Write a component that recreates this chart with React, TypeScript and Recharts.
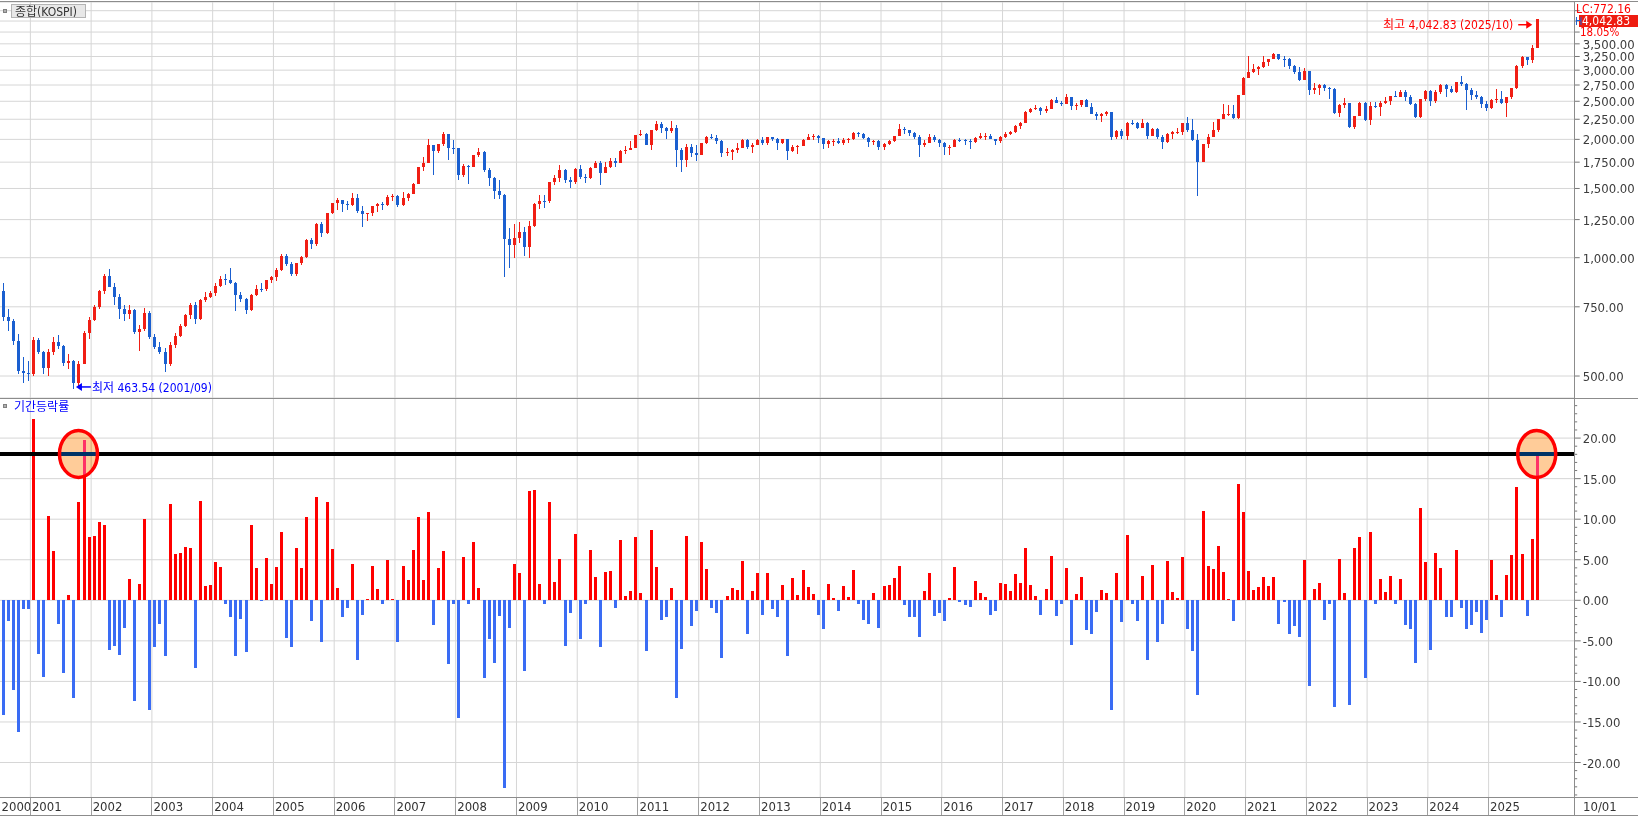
import { ComposedChart, Bar, XAxis, YAxis, CartesianGrid, ReferenceLine, ReferenceDot } from "recharts";

const W = 1638;
const AXIS_W = 63.3;
const SLOTS = 311;
const LOWER_H = 417;
const LABEL_ROW_H = 18.7;
const NUM_FONT = "'DejaVu Sans Condensed', 'DejaVu Sans', sans-serif";
const KR_FONT = "'DejaVu Sans Condensed', 'Noto Sans CJK KR', sans-serif";

const UP = "#f01e14";
const DN = "#1a5fd0";
const BAR_UP = "#ff0000";
const BAR_DN = "#3a6cf4";
const GRID = "#d6d6d6";
const FRAME = "#8c8c8c";

// monthly candles, 2000/07 .. 2025/10
const FIRST_OPEN = 821;
const yearLabels = ["2000", "2001", "2002", "2003", "2004", "2005", "2006", "2007", "2008", "2009", "2010", "2011", "2012",
  "2013", "2014", "2015", "2016", "2017", "2018", "2019", "2020", "2021", "2022", "2023", "2024", "2025"];
const yearStart = yearLabels.map((_, k) => (k === 0 ? 0 : 6 + 12 * (k - 1)));

const closes = [
  706, 689, 613, 514, 509, 505,
  618, 577, 523, 577, 612, 595, 541, 545, 480, 537, 643, 694,
  749, 821, 897, 842, 795, 742, 717, 735, 646, 659, 725, 627,
  591, 574, 535, 599, 633, 669, 714, 760, 697, 782, 796, 811,
  849, 884, 880, 862, 803, 785, 734, 802, 834, 833, 877, 895,
  932, 1010, 965, 910, 968, 1007, 1111, 1082, 1220, 1157, 1297, 1379,
  1400, 1371, 1359, 1420, 1317, 1293, 1296, 1350, 1369, 1362, 1430, 1434,
  1360, 1417, 1452, 1542, 1701, 1743, 1933, 1873, 1946, 2065, 1904, 1897,
  1624, 1711, 1703, 1825, 1853, 1674, 1594, 1474, 1448, 1113, 1076, 1124,
  1162, 1063, 1206, 1370, 1396, 1390, 1558, 1592, 1673, 1581, 1555, 1683,
  1602, 1594, 1692, 1741, 1641, 1698, 1759, 1742, 1873, 1883, 1905, 2051,
  2069, 1939, 2107, 2192, 2142, 2101, 2133, 1880, 1769, 1909, 1847, 1826,
  1956, 2031, 2014, 1982, 1843, 1854, 1881, 1905, 1996, 1912, 1932, 1997,
  1961, 2026, 2005, 1963, 2001, 1863, 1914, 1926, 1997, 2030, 2045, 2011,
  1941, 1980, 1986, 1961, 1995, 2002, 2076, 2068, 2020, 1964, 1981, 1916,
  1950, 1986, 2041, 2127, 2114, 2072, 2029, 1937, 1963, 2029, 1991, 1961,
  1912, 1917, 1996, 1994, 1983, 1970, 2016, 2035, 2044, 2008, 1983, 2026,
  2067, 2092, 2160, 2205, 2347, 2392, 2403, 2363, 2394, 2523, 2476, 2467,
  2566, 2427, 2446, 2516, 2423, 2326, 2295, 2323, 2343, 2029, 2097, 2041,
  2205, 2195, 2141, 2204, 2041, 2131, 2025, 1967, 2063, 2083, 2088, 2198,
  2119, 1987, 1754, 1947, 2029, 2108, 2249, 2326, 2327, 2267, 2591, 2873,
  2976, 3013, 3061, 3148, 3204, 3297, 3202, 3199, 3068, 2970, 2839, 2978,
  2663, 2699, 2757, 2695, 2686, 2333, 2452, 2473, 2155, 2293, 2473, 2236,
  2425, 2413, 2477, 2501, 2577, 2564, 2633, 2556, 2465, 2277, 2535, 2655,
  2497, 2642, 2747, 2692, 2636, 2798, 2770, 2674, 2593, 2556, 2456, 2399,
  2517, 2533, 2481, 2556, 2698, 3072, 3245, 3186, 3425, 4042.83,
];

const highs = [
  862, 740, 700, 640, 560, 545,
  630, 625, 580, 585, 630, 635, 600, 570, 550, 545, 650, 705,
  760, 830, 910, 937, 860, 810, 760, 760, 740, 675, 745, 730,
  640, 610, 590, 610, 645, 680, 720, 765, 770, 785, 820, 825,
  860, 900, 910, 940, 865, 820, 790, 810, 850, 860, 880, 900,
  940, 1020, 1022, 975, 970, 1010, 1115, 1125, 1222, 1230, 1300, 1380,
  1422, 1405, 1395, 1465, 1450, 1350, 1300, 1355, 1380, 1385, 1440, 1450,
  1440, 1470, 1460, 1545, 1705, 1800, 2005, 1940, 1950, 2085, 2000, 1990,
  1900, 1730, 1720, 1830, 1900, 1870, 1690, 1600, 1580, 1450, 1190, 1220,
  1230, 1200, 1240, 1380, 1440, 1440, 1560, 1620, 1720, 1680, 1600, 1690,
  1720, 1630, 1700, 1760, 1760, 1750, 1790, 1790, 1880, 1920, 1980, 2055,
  2115, 2080, 2110, 2230, 2220, 2150, 2230, 2180, 1900, 1950, 1950, 1940,
  1960, 2040, 2060, 2050, 1990, 1900, 1890, 1960, 2010, 2000, 1960, 2010,
  2030, 2030, 2030, 2015, 2010, 2010, 1930, 1940, 2010, 2060, 2060, 2050,
  2020, 1990, 2000, 2020, 2020, 2020, 2090, 2090, 2080, 2030, 1990, 1990,
  1960, 1990, 2045, 2190, 2150, 2110, 2090, 2050, 1990, 2060, 2050, 2000,
  1970, 1930, 2000, 2020, 2010, 2010, 2030, 2070, 2070, 2060, 2010, 2040,
  2090, 2100, 2170, 2210, 2360, 2400, 2450, 2420, 2430, 2530, 2560, 2500,
  2607, 2570, 2470, 2520, 2530, 2470, 2350, 2330, 2360, 2350, 2110, 2130,
  2210, 2240, 2210, 2250, 2210, 2140, 2140, 2050, 2070, 2100, 2140, 2200,
  2280, 2250, 2060, 1950, 2060, 2220, 2260, 2460, 2440, 2440, 2600, 2880,
  3266, 3110, 3070, 3250, 3210, 3316, 3300, 3260, 3230, 3100, 3060, 3040,
  2990, 2780, 2770, 2760, 2720, 2710, 2460, 2550, 2480, 2300, 2490, 2490,
  2490, 2490, 2500, 2570, 2580, 2650, 2670, 2670, 2600, 2470, 2540, 2670,
  2670, 2670, 2760, 2760, 2740, 2800, 2896, 2780, 2700, 2650, 2580, 2510,
  2540, 2680, 2660, 2560, 2700, 3090, 3250, 3230, 3470, 4042.83,
];

const lows = [
  690, 650, 600, 505, 480, 485,
  500, 570, 505, 500, 565, 585, 530, 520, 463.54, 470, 535, 620,
  690, 740, 810, 840, 760, 700, 690, 700, 640, 580, 650, 620,
  585, 570, 512, 530, 590, 630, 665, 700, 680, 695, 770, 790,
  800, 840, 850, 855, 730, 770, 720, 730, 800, 820, 825, 860,
  870, 925, 955, 900, 900, 960, 1000, 1050, 1070, 1130, 1150, 1290,
  1320, 1310, 1325, 1355, 1300, 1200, 1240, 1280, 1310, 1320, 1350, 1390,
  1345, 1355, 1390, 1450, 1540, 1660, 1740, 1620, 1850, 1925, 1772, 1840,
  1580, 1600, 1540, 1700, 1800, 1650, 1520, 1410, 1410, 892, 940, 1000,
  1090, 1010, 1000, 1200, 1330, 1340, 1380, 1530, 1560, 1550, 1500, 1540,
  1590, 1550, 1590, 1690, 1530, 1640, 1690, 1700, 1740, 1840, 1880, 1900,
  2040, 1930, 1880, 2100, 2070, 2010, 2080, 1700, 1650, 1700, 1800, 1760,
  1820, 1950, 2000, 1950, 1800, 1810, 1770, 1850, 1900, 1890, 1850, 1930,
  1940, 1930, 1980, 1880, 1950, 1770, 1860, 1840, 1920, 2000, 1990, 1960,
  1890, 1900, 1920, 1950, 1940, 1960, 1990, 2030, 2010, 1910, 1940, 1880,
  1880, 1940, 1970, 2040, 2060, 2040, 2010, 1800, 1910, 1960, 1970, 1910,
  1820, 1830, 1910, 1970, 1930, 1890, 1960, 2000, 1990, 2000, 1930, 1960,
  2020, 2050, 2080, 2130, 2200, 2340, 2370, 2310, 2340, 2390, 2470, 2430,
  2460, 2370, 2380, 2420, 2420, 2320, 2240, 2220, 2290, 1990, 2010, 2010,
  1990, 2180, 2130, 2140, 2010, 2040, 2010, 1890, 1960, 2000, 2060, 2050,
  2090, 1980, 1439, 1750, 1900, 2030, 2090, 2250, 2300, 2260, 2260, 2590,
  2860, 2950, 2910, 3040, 3070, 3200, 3180, 3060, 3020, 2930, 2820, 2830,
  2590, 2610, 2600, 2650, 2540, 2320, 2280, 2400, 2140, 2130, 2290, 2230,
  2180, 2400, 2290, 2460, 2440, 2560, 2560, 2500, 2440, 2270, 2270, 2500,
  2430, 2480, 2610, 2570, 2620, 2620, 2730, 2380, 2520, 2540, 2400, 2360,
  2390, 2480, 2460, 2284, 2540, 2690, 3030, 3100, 3120, 3410,
];

// 기간등락률 (%), one per month
const changes = [
  -14.1, -2.5, -11.0, -16.2, -1.1, -1.1,
  22.4, -6.6, -9.5, 10.4, 6.1, -2.9, -9.0, 0.7, -12.1, 12.1, 19.8, 7.8,
  7.9, 9.6, 9.3, -6.1, -5.6, -6.8, -3.4, 2.6, -12.4, 2.0, 10.0, -13.5,
  -5.7, -2.9, -6.9, 11.9, 5.7, 5.8, 6.6, 6.4, -8.3, 12.2, 1.8, 1.9,
  4.7, 4.1, -0.4, -2.1, -6.9, -2.3, -6.4, 9.3, 4.0, -0.1, 5.2, 2.0,
  4.1, 8.4, -4.6, -5.7, 6.4, 4.0, 10.3, -2.6, 12.7, -5.2, 12.1, 6.3,
  1.5, -2.1, -0.9, 4.5, -7.3, -1.8, 0.2, 4.2, 1.4, -0.5, 5.0, 0.2,
  -5.2, 4.2, 2.5, 6.2, 10.3, 2.5, 10.9, -3.1, 4.0, 6.1, -7.8, -0.5,
  -14.5, 5.3, -0.5, 7.2, 1.5, -9.6, -4.8, -7.7, -1.9, -23.2, -3.4, 4.5,
  3.4, -8.7, 13.5, 13.6, 2.0, -0.5, 12.1, 2.3, 5.1, -5.6, -1.6, 8.2,
  -4.8, -0.5, 6.2, 2.9, -5.8, 3.5, 3.6, -1.0, 7.4, 0.5, 1.2, 7.8,
  0.9, -6.3, 8.7, 4.1, -2.4, -2.0, 1.5, -12.0, -6.0, 7.9, -3.2, -1.3,
  7.2, 3.9, -0.9, -1.6, -7.1, 0.5, 1.5, 1.3, 4.8, -4.2, 1.2, 3.4,
  -1.8, 3.4, -1.1, -2.1, 1.9, -6.9, 2.7, 0.7, 3.7, 1.6, 0.8, -1.8,
  -3.6, 2.0, 0.3, -1.3, 1.8, 0.4, 3.7, -0.4, -2.4, -2.9, 0.9, -3.4,
  1.8, 1.9, 2.7, 4.2, -0.6, -2.0, -2.1, -4.5, 1.2, 3.4, -1.9, -1.6,
  -2.6, 0.3, 4.1, -0.2, -0.6, -0.8, 2.4, 0.9, 0.4, -1.8, -1.3, 2.1,
  2.0, 1.2, 3.2, 2.1, 6.4, 1.9, 0.5, -1.8, 1.4, 5.5, -1.9, -0.4,
  4.0, -5.5, 0.8, 2.9, -3.7, -4.1, -1.4, 1.3, 0.9, -13.5, 3.4, -2.7,
  8.0, -0.5, -2.5, 3.0, -7.4, 4.3, -5.1, -2.9, 4.8, 1.0, 0.3, 5.3,
  -3.6, -6.3, -11.7, 11.0, 4.2, 3.9, 6.7, 3.5, 0.1, -2.6, 14.3, 10.9,
  3.6, 1.3, 1.6, 2.9, 1.8, 2.9, -2.9, -0.2, -4.1, -3.2, -4.5, 5.0,
  -10.6, 1.4, 2.1, -2.4, -0.4, -13.2, 5.1, 0.9, -12.9, 6.4, 7.8, -9.6,
  8.4, -0.5, 2.6, 1.0, 3.0, -0.5, 2.6, -3.0, -3.6, -7.7, 11.4, 4.7,
  -6.1, 5.8, 4.0, -2.0, -2.1, 6.2, -1.0, -3.5, -3.1, -1.5, -4.0, -2.4,
  5.0, 0.7, -2.1, 3.1, 5.6, 14.0, 5.7, -1.9, 7.5, 18.05,
];

const priceTicks = [500, 750, 1000, 1250, 1500, 1750, 2000, 2250, 2500, 2750, 3000, 3250, 3500, 3750, 4000, 4250];
const chgTicks = [-20, -15, -10, -5, 0, 5, 10, 15, 20];
const chgMinorTicks = Array.from({ length: 49 }, (_, k) => k - 24);

const LAST = 4042.83;
const LAST_CHG = 18.05;
const LOW_IDX = 14; // 2001/09
const LOW_VAL = 463.54;
const HIGH_IDX = closes.length - 1;
const CIRCLED = [15, HIGH_IDX];

const rows = Array.from({ length: SLOTS }, (_, i) =>
  i < closes.length
    ? {
        i,
        open: i === 0 ? FIRST_OPEN : closes[i - 1],
        close: closes[i],
        high: highs[i],
        low: lows[i],
        range: [lows[i], highs[i]],
        chg: changes[i],
      }
    : { i }
);

const Candle = (p: any) => {
  const { x, y, width, height, payload } = p;
  if (!payload || payload.high == null || !Number.isFinite(y)) return <g />;
  const top = Math.min(y, y + height);
  const bot = Math.max(y, y + height);
  const lh = Math.log(payload.high);
  const span = lh - Math.log(payload.low) || 1;
  const py = (v: number) => top + ((lh - Math.log(v)) / span) * (bot - top);
  const cx = Math.round(x + width / 2);
  const color = payload.close >= payload.open ? UP : DN;
  const yo = py(payload.open);
  const yc = py(payload.close);
  const bt = Math.min(yo, yc);
  const bh = Math.max(1, Math.abs(yo - yc));
  return (
    <g shapeRendering="crispEdges">
      <rect x={cx} y={top} width={1} height={Math.max(1, bot - top)} fill={color} />
      <rect x={cx - 1} y={bt} width={3} height={bh} fill={color} />
    </g>
  );
};

const ChgBar = (p: any) => {
  const { x, y, width, height, payload } = p;
  if (!payload || payload.chg == null || !Number.isFinite(y)) return <g />;
  const top = Math.min(y, y + height);
  const h = Math.max(1, Math.abs(height));
  const cx = Math.round(x + width / 2);
  return (
    <rect x={cx - 1} y={top} width={3} height={h} fill={payload.chg >= 0 ? BAR_UP : BAR_DN} shapeRendering="crispEdges" />
  );
};

const Halo = (p: any) => {
  const { cx, cy } = p;
  return (
    <g>
      <ellipse cx={cx} cy={cy} rx={19} ry={23.5} fill="#003366" style={{ mixBlendMode: "difference" }} />
      <ellipse cx={cx} cy={cy} rx={19} ry={23.5} fill="none" stroke="#ff0000" strokeWidth={3.5} />
    </g>
  );
};

const LowMark = (p: any) => {
  const { cx, cy } = p;
  const ax = cx + 2.5;
  const ay = cy - 2;
  return (
    <g>
      <line x1={ax + 4} x2={ax + 15} y1={ay} y2={ay} stroke="#0000ff" strokeWidth={1.5} />
      <polygon points={`${ax},${ay} ${ax + 6},${ay - 4} ${ax + 6},${ay + 4}`} fill="#0000ff" />
      <text x={ax + 16} y={ay + 5} fontFamily={KR_FONT} fontSize={12} fill="#0000ff">
        최저 463.54 (2001/09)
      </text>
    </g>
  );
};

const HighMark = (p: any) => {
  const { cx, cy } = p;
  const ay = cy + 5.5;
  const tip = cx - 4.5;
  return (
    <g>
      <line x1={tip - 14} x2={tip - 4} y1={ay} y2={ay} stroke="#ff0000" strokeWidth={1.5} />
      <polygon points={`${tip},${ay} ${tip - 6},${ay - 4} ${tip - 6},${ay + 4}`} fill="#ff0000" />
      <text x={tip - 19} y={ay + 4.5} textAnchor="end" fontFamily={KR_FONT} fontSize={12} fill="#ff0000">
        최고 4,042.83 (2025/10)
      </text>
    </g>
  );
};

const fmtPrice = (v: number) => v.toLocaleString("en-US", { minimumFractionDigits: 2, maximumFractionDigits: 2 });

const PriceTick = (p: any) => {
  const { x, y, payload } = p;
  return (
    <g>
      <line x1={x} x2={x + 5} y1={y} y2={y} stroke="#777" />
      {payload.value < 3700 && (
        <text x={x + 8} y={y + 5} fontFamily={NUM_FONT} fontSize={13} fill="#3c3c3c">
          {fmtPrice(payload.value)}
        </text>
      )}
    </g>
  );
};

const ChgTick = (p: any) => {
  const { x, y, payload } = p;
  const major = payload.value % 5 === 0;
  return (
    <g>
      <line x1={x} x2={x + (major ? 6 : 2.5)} y1={y} y2={y} stroke="#777" />
      {major && (
        <text x={x + 8} y={y + 5} fontFamily={NUM_FONT} fontSize={13} fill="#3c3c3c">
          {payload.value.toFixed(2)}
        </text>
      )}
    </g>
  );
};

// label row sits right under the plot of the lower chart
const ROW_TOP = LOWER_H - LABEL_ROW_H;

const YearTick = (p: any) => {
  const { x, payload } = p;
  const k = yearStart.indexOf(payload.value);
  return (
    <g>
      {payload.value > 0 && (
        <line x1={x} x2={x} y1={ROW_TOP} y2={LOWER_H} stroke="#a0a0a0" shapeRendering="crispEdges" />
      )}
      <text x={x + 1.5} y={ROW_TOP + 13.5} fontFamily={NUM_FONT} fontSize={13} fill="#333">
        {yearLabels[k]}
      </text>
    </g>
  );
};

export default function App() {
  return (
    <div style={{ position: "relative", width: W, height: 816, background: "#fff", overflow: "hidden" }}>
      <style>{"body{margin:0}"}</style>
      <div style={{ position: "absolute", left: 0, top: 0 }}>
        <ComposedChart width={W} height={399} data={rows} margin={{ top: 2, right: 0, bottom: 1, left: 0 }}>
          <XAxis xAxisId="c" dataKey="i" type="category" hide />
          <XAxis xAxisId="n" dataKey="i" type="number" domain={[0, SLOTS]} ticks={yearStart} allowDataOverflow hide />
          <YAxis
            yAxisId="p"
            orientation="right"
            scale="log"
            domain={[439.6, 4472]}
            allowDataOverflow
            ticks={priceTicks}
            interval={0}
            width={AXIS_W}
            axisLine={false}
            tickLine={false}
            tickSize={0}
            tickMargin={0}
            tick={PriceTick}
          />
          <CartesianGrid xAxisId="n" yAxisId="p" stroke={GRID} verticalValues={yearStart.slice(1)} />
          <Bar xAxisId="c" yAxisId="p" dataKey="range" barSize={3} shape={Candle} isAnimationActive={false} />
          <ReferenceDot xAxisId="c" yAxisId="p" x={LOW_IDX} y={LOW_VAL} shape={LowMark} />
          <ReferenceDot xAxisId="c" yAxisId="p" x={HIGH_IDX} y={LAST} shape={HighMark} />
        </ComposedChart>
      </div>
      <div style={{ position: "absolute", left: 0, top: 399 }}>
        <ComposedChart width={W} height={LOWER_H} data={rows} margin={{ top: 0, right: 0, bottom: 0, left: 0 }}>
          <XAxis xAxisId="c" dataKey="i" type="category" hide />
          <XAxis
            xAxisId="n"
            dataKey="i"
            type="number"
            domain={[0, SLOTS]}
            ticks={yearStart}
            interval={0}
            allowDataOverflow
            height={LABEL_ROW_H}
            axisLine={false}
            tickLine={false}
            tickSize={0}
            tickMargin={0}
            tick={YearTick}
          />
          <YAxis
            yAxisId="r"
            orientation="right"
            domain={[-24.29, 24.82]}
            allowDataOverflow
            ticks={chgMinorTicks}
            interval={0}
            width={AXIS_W}
            axisLine={false}
            tickLine={false}
            tickSize={0}
            tickMargin={0}
            tick={ChgTick}
          />
          <CartesianGrid
            xAxisId="n"
            yAxisId="r"
            stroke={GRID}
            horizontalValues={chgTicks}
            verticalValues={yearStart.slice(1)}
          />
          <Bar xAxisId="c" yAxisId="r" dataKey="chg" barSize={3} shape={ChgBar} isAnimationActive={false} />
          <ReferenceLine xAxisId="c" yAxisId="r" y={LAST_CHG} stroke="#000" strokeWidth={4} />
          {CIRCLED.map((idx) => (
            <ReferenceDot key={idx} xAxisId="c" yAxisId="r" x={idx} y={LAST_CHG} shape={Halo} />
          ))}
        </ComposedChart>
      </div>
      <svg
        width={W}
        height={816}
        style={{ position: "absolute", left: 0, top: 0, pointerEvents: "none" }}
        shapeRendering="crispEdges"
      >
        <line x1={0} x2={W} y1={1.5} y2={1.5} stroke={FRAME} />
        <line x1={0} x2={W} y1={398.5} y2={398.5} stroke={FRAME} />
        <line x1={0} x2={W} y1={797.5} y2={797.5} stroke={FRAME} />
        <line x1={0} x2={W} y1={815.5} y2={815.5} stroke={FRAME} />
        <line x1={1574.5} x2={1574.5} y1={1.5} y2={816} stroke={FRAME} />
        <rect x={3.5} y={9.5} width={3} height={3} fill="#b0b0b0" stroke="#808080" />
        <rect x={11.5} y={4.5} width={74} height={13} fill="#e8e8e8" stroke="#b4b4b4" />
        <rect x={3.5} y={404.5} width={3} height={3} fill="#b0b0b0" stroke="#808080" />
        <rect x={1579} y={15} width={59} height={12} fill="#ee1c10" />
        <g shapeRendering="auto">
          <text x={15} y={15.5} fontFamily={KR_FONT} fontSize={12} fill="#333">
            종합(KOSPI)
          </text>
          <text x={14} y={411} fontFamily={KR_FONT} fontSize={12} fill="#0000ff">
            기간등락률
          </text>
          <text x={1576} y={12.5} fontFamily={NUM_FONT} fontSize={12} fill="#ff0000">
            LC:772.16
          </text>
          <text x={1575} y={25} fontFamily={NUM_FONT} fontSize={11} fill={DN}>
            H
          </text>
          <text x={1582} y={25} fontFamily={NUM_FONT} fontSize={12} fill="#fff">
            {fmtPrice(LAST)}
          </text>
          <text x={1580} y={36} fontFamily={NUM_FONT} fontSize={11.5} fill="#ff0000">
            {LAST_CHG.toFixed(2)}%
          </text>
          <text x={1583} y={811} fontFamily={NUM_FONT} fontSize={13} fill="#333">
            10/01
          </text>
        </g>
      </svg>
    </div>
  );
}
